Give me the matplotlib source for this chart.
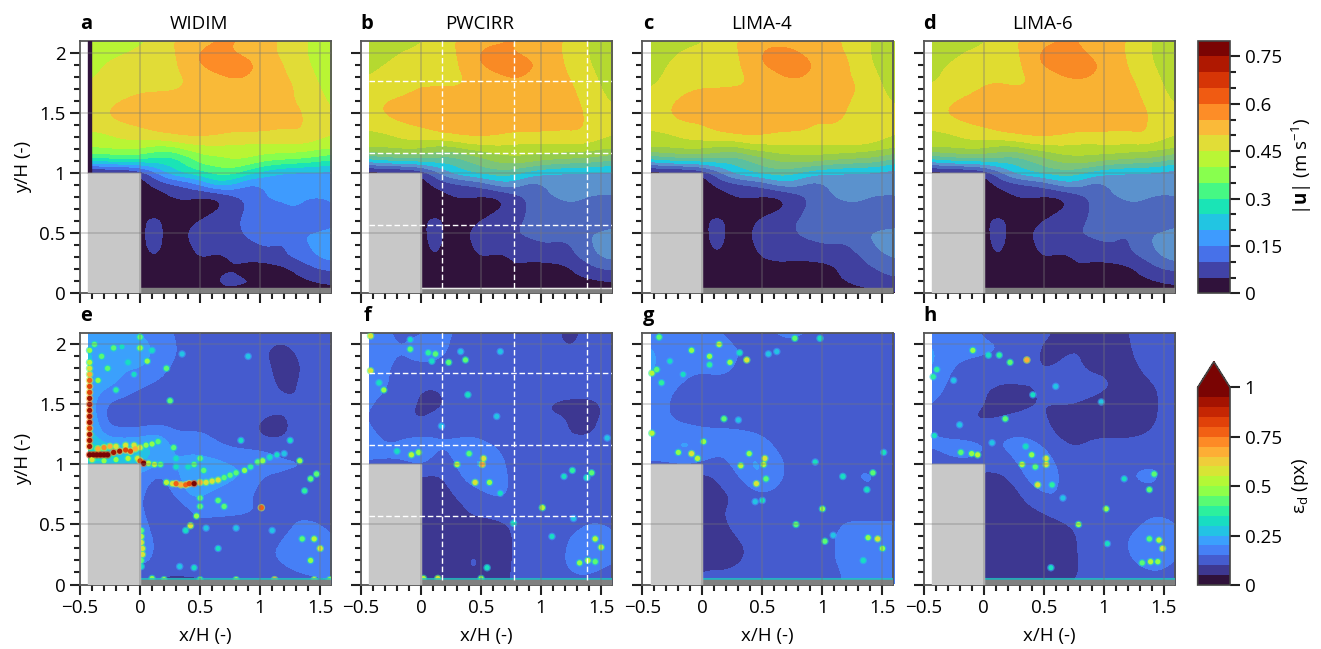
import numpy as np
import matplotlib
matplotlib.use('Agg')
import matplotlib.pyplot as plt
from matplotlib.colors import BoundaryNorm, ListedColormap
from matplotlib.patches import Rectangle
from matplotlib.cm import ScalarMappable

plt.rcParams['font.family'] = ['Open Sans', 'DejaVu Sans']
plt.rcParams['mathtext.fontset'] = 'custom'
plt.rcParams['mathtext.rm'] = 'Open Sans'
plt.rcParams['mathtext.bf'] = 'Open Sans:bold'
plt.rcParams['mathtext.default'] = 'regular'
plt.rcParams['font.size'] = 13.5

# zakres pol (x/H i y/H), siatki rowne
x_pola = (-0.43, 1.6)
y_pola = (0.0, 2.1)

# |u| w cm/s, 16 kolumn od x=-0.43 do 1.6, 22 wiersze od y=2.1 do y=0
u_widim = [
    [42, 42, 42, 43, 46, 49, 52, 53, 55, 56, 53, 52, 49, 47, 43, 41],
    [42, 43, 44, 46, 48, 49, 52, 56, 57, 54, 53, 51, 49, 47, 43, 41],
    [43, 45, 47, 48, 48, 48, 52, 56, 59, 59, 56, 53, 50, 47, 44, 42],
    [44, 46, 48, 48, 48, 49, 50, 52, 54, 56, 55, 52, 51, 48, 45, 42],
    [46, 47, 48, 49, 49, 49, 50, 52, 53, 53, 53, 52, 52, 49, 46, 43],
    [47, 48, 50, 51, 52, 52, 52, 53, 53, 53, 53, 53, 52, 49, 47, 44],
    [47, 50, 52, 52, 53, 53, 53, 53, 53, 53, 53, 53, 52, 51, 47, 45],
    [46, 48, 50, 51, 52, 53, 53, 53, 53, 52, 52, 52, 51, 51, 48, 46],
    [44, 44, 46, 47, 49, 50, 51, 51, 50, 49, 49, 49, 48, 50, 47, 45],
    [41, 41, 42, 42, 38, 38, 42, 43, 44, 43, 43, 43, 43, 43, 42, 41],
    [28, 30, 31, 31, 29, 26, 31, 38, 38, 41, 40, 37, 36, 35, 33, 30],
    [1, 1, 2, 4, 13, 24, 28, 30, 33, 33, 27, 22, 19, 18, 18, 18],
    [1, 1, 1, 1, 6, 8, 10, 16, 24, 20, 13, 16, 16, 17, 17, 17],
    [1, 1, 1, 1, 2, 5, 7, 4, 4, 9, 11, 16, 16, 16, 16, 16],
    [1, 1, 1, 1, 1, 2, 2, 2, 4, 8, 11, 13, 14, 16, 10, 15],
    [1, 1, 1, 1, 9, 2, 3, 5, 9, 9, 12, 14, 14, 10, 9, 13],
    [1, 1, 1, 1, 9, 2, 4, 10, 8, 9, 11, 14, 14, 15, 16, 17],
    [1, 1, 1, 1, 9, 2, 4, 7, 8, 9, 9, 11, 8, 14, 16, 20],
    [1, 1, 1, 1, 6, 2, 3, 6, 3, 6, 7, 8, 10, 12, 15, 18],
    [1, 1, 1, 1, 3, 3, 3, 3, 4, 5, 2, 2, 3, 6, 10, 11],
    [1, 1, 1, 1, 1, 1, 1, 2, 6, 6, 6, 5, 4, 4, 5, 6],
    [1, 1, 1, 1, 1, 1, 1, 1, 4, 4, 3, 3, 3, 3, 3, 3],
]
u_pwcirr = [
    [42, 42, 43, 44, 46, 49, 52, 53, 54, 56, 53, 52, 50, 47, 43, 41],
    [42, 43, 45, 46, 48, 49, 52, 56, 57, 54, 53, 51, 50, 47, 43, 41],
    [43, 45, 47, 48, 48, 48, 52, 56, 59, 59, 56, 53, 50, 47, 44, 42],
    [45, 47, 48, 49, 49, 49, 50, 52, 54, 56, 54, 52, 51, 48, 45, 42],
    [46, 47, 48, 50, 50, 50, 50, 52, 53, 53, 53, 52, 52, 49, 46, 43],
    [48, 50, 51, 52, 52, 52, 52, 53, 53, 53, 53, 53, 52, 50, 47, 44],
    [48, 51, 52, 53, 53, 53, 53, 53, 53, 53, 53, 53, 52, 51, 47, 46],
    [46, 48, 50, 51, 52, 53, 53, 53, 53, 52, 52, 52, 51, 51, 48, 46],
    [44, 44, 46, 47, 49, 50, 51, 51, 50, 49, 49, 49, 49, 50, 47, 45],
    [41, 41, 42, 42, 38, 38, 42, 43, 44, 43, 43, 43, 43, 43, 42, 41],
    [24, 28, 28, 29, 29, 26, 29, 33, 37, 39, 38, 36, 35, 34, 33, 30],
    [1, 1, 2, 4, 12, 22, 26, 28, 29, 27, 23, 20, 19, 19, 18, 19],
    [1, 1, 1, 1, 6, 8, 9, 12, 18, 18, 12, 16, 17, 17, 17, 17],
    [1, 1, 1, 1, 2, 5, 6, 4, 4, 8, 11, 15, 16, 16, 15, 15],
    [1, 1, 1, 1, 1, 2, 2, 2, 4, 8, 11, 12, 14, 14, 10, 12],
    [1, 1, 1, 1, 9, 2, 3, 5, 9, 9, 11, 13, 14, 10, 9, 12],
    [1, 1, 1, 1, 9, 2, 4, 9, 9, 10, 11, 12, 13, 14, 16, 17],
    [1, 1, 1, 1, 8, 2, 4, 7, 8, 9, 9, 10, 8, 12, 16, 21],
    [1, 1, 1, 1, 6, 2, 3, 6, 3, 6, 7, 8, 8, 11, 15, 17],
    [1, 1, 1, 1, 2, 4, 2, 2, 3, 5, 2, 2, 3, 6, 10, 11],
    [1, 1, 1, 1, 1, 1, 1, 2, 5, 4, 4, 5, 5, 4, 4, 5],
    [1, 1, 1, 1, 1, 1, 1, 1, 1, 3, 3, 3, 3, 3, 3, 3],
]
u_lima4 = [
    [42, 42, 42, 44, 46, 49, 52, 53, 53, 53, 53, 52, 49, 47, 43, 41],
    [42, 43, 46, 47, 48, 49, 52, 56, 57, 55, 53, 51, 50, 47, 43, 41],
    [43, 45, 47, 48, 48, 48, 52, 56, 58, 58, 55, 53, 51, 47, 44, 42],
    [43, 46, 47, 48, 48, 49, 50, 52, 55, 56, 54, 52, 51, 48, 45, 42],
    [45, 47, 49, 50, 50, 50, 50, 52, 53, 53, 53, 52, 52, 49, 46, 43],
    [46, 49, 51, 52, 52, 52, 52, 53, 53, 53, 49, 53, 51, 48, 47, 44],
    [47, 50, 52, 52, 53, 53, 53, 53, 53, 53, 49, 53, 50, 47, 47, 46],
    [46, 48, 50, 50, 52, 53, 53, 53, 52, 52, 50, 50, 49, 48, 48, 46],
    [44, 44, 46, 47, 49, 50, 51, 50, 49, 49, 49, 49, 49, 51, 47, 45],
    [41, 41, 42, 42, 39, 38, 42, 43, 44, 43, 44, 44, 44, 43, 42, 41],
    [24, 28, 28, 29, 29, 26, 29, 33, 36, 38, 38, 36, 35, 34, 33, 28],
    [1, 1, 2, 4, 12, 22, 26, 28, 29, 26, 22, 20, 19, 19, 18, 17],
    [1, 1, 1, 1, 6, 8, 9, 12, 18, 17, 12, 16, 17, 17, 17, 17],
    [1, 1, 1, 1, 2, 5, 6, 4, 4, 8, 11, 15, 16, 16, 15, 15],
    [1, 1, 1, 1, 1, 2, 2, 2, 4, 8, 12, 13, 14, 14, 11, 12],
    [1, 1, 1, 1, 9, 2, 3, 7, 9, 10, 13, 14, 14, 11, 10, 12],
    [1, 1, 1, 1, 9, 2, 4, 9, 9, 10, 12, 13, 13, 14, 17, 17],
    [1, 1, 1, 1, 8, 2, 4, 7, 8, 9, 9, 10, 9, 13, 16, 21],
    [1, 1, 1, 1, 5, 2, 3, 6, 5, 6, 7, 8, 8, 10, 13, 16],
    [1, 1, 1, 1, 3, 5, 3, 3, 5, 3, 2, 3, 7, 9, 10, 11],
    [1, 1, 1, 1, 1, 1, 1, 2, 5, 3, 2, 4, 5, 7, 9, 10],
    [1, 1, 1, 1, 1, 1, 1, 1, 2, 3, 3, 3, 3, 3, 3, 4],
]
u_lima6 = [
    [42, 42, 43, 44, 46, 49, 52, 53, 55, 55, 53, 52, 50, 47, 43, 41],
    [42, 43, 45, 46, 48, 49, 52, 57, 58, 56, 53, 51, 50, 47, 43, 41],
    [43, 45, 47, 48, 48, 48, 52, 57, 59, 59, 56, 53, 50, 47, 44, 42],
    [43, 47, 48, 49, 49, 49, 50, 52, 55, 56, 55, 52, 51, 48, 45, 42],
    [46, 47, 48, 50, 51, 50, 50, 52, 53, 53, 53, 52, 52, 49, 46, 43],
    [47, 49, 51, 52, 52, 52, 52, 53, 53, 53, 53, 53, 52, 50, 47, 44],
    [48, 51, 52, 53, 53, 53, 53, 53, 53, 53, 53, 53, 52, 51, 48, 46],
    [46, 48, 50, 51, 52, 53, 53, 53, 53, 52, 52, 52, 51, 51, 48, 46],
    [44, 44, 46, 47, 49, 50, 51, 51, 50, 49, 49, 49, 49, 51, 47, 45],
    [41, 41, 42, 42, 38, 38, 42, 43, 44, 43, 43, 44, 43, 43, 42, 41],
    [24, 28, 28, 29, 29, 26, 29, 33, 37, 39, 38, 36, 35, 34, 33, 28],
    [1, 1, 2, 4, 12, 22, 26, 28, 29, 27, 23, 20, 19, 19, 18, 17],
    [1, 1, 1, 1, 6, 8, 9, 12, 18, 18, 12, 16, 17, 17, 17, 17],
    [1, 1, 1, 1, 2, 5, 6, 4, 4, 8, 11, 15, 16, 16, 15, 15],
    [1, 1, 1, 1, 1, 2, 2, 2, 4, 8, 11, 12, 14, 14, 10, 13],
    [1, 1, 1, 1, 9, 2, 3, 5, 9, 9, 11, 13, 14, 10, 9, 13],
    [1, 1, 1, 1, 9, 2, 4, 9, 9, 10, 11, 12, 9, 14, 16, 17],
    [1, 1, 1, 1, 8, 2, 4, 7, 8, 9, 9, 10, 9, 13, 17, 21],
    [1, 1, 1, 1, 6, 2, 3, 6, 3, 6, 7, 8, 9, 11, 15, 18],
    [1, 1, 1, 1, 2, 4, 2, 2, 3, 5, 2, 2, 3, 6, 10, 11],
    [1, 1, 1, 1, 1, 1, 1, 2, 5, 4, 4, 4, 5, 4, 5, 6],
    [1, 1, 1, 1, 1, 1, 1, 1, 2, 3, 3, 3, 3, 3, 3, 3],
]

# blad w setnych piksela, 15 kolumn, 15 wierszy od y=2.1 co 0.15
e_widim = [
    [22, 20, 19, 20, 16, 15, 12, 11, 11, 12, 12, 11, 12, 14, 15],
    [26, 24, 22, 24, 19, 15, 14, 13, 13, 13, 10, 9, 10, 13, 14],
    [26, 22, 20, 21, 17, 14, 14, 14, 13, 13, 11, 9, 9, 12, 14],
    [24, 22, 20, 15, 14, 13, 13, 14, 13, 13, 12, 9, 10, 12, 14],
    [24, 14, 12, 12, 12, 13, 14, 14, 13, 14, 12, 11, 10, 9, 10],
    [28, 13, 12, 11, 12, 12, 14, 14, 13, 12, 9, 9, 11, 11, 11],
    [30, 20, 20, 22, 26, 17, 16, 15, 13, 12, 9, 9, 11, 13, 11],
    [40, 40, 35, 30, 24, 20, 22, 20, 18, 18, 20, 16, 16, 14, 12],
    [8, 8, 8, 20, 12, 20, 22, 28, 24, 20, 14, 15, 14, 16, 14],
    [8, 8, 8, 18, 10, 16, 24, 18, 15, 15, 14, 11, 15, 14, 13],
    [8, 8, 8, 18, 10, 9, 14, 18, 18, 16, 15, 15, 15, 14, 14],
    [8, 8, 8, 20, 11, 12, 16, 10, 9, 12, 13, 14, 15, 16, 14],
    [8, 8, 8, 24, 12, 14, 15, 12, 13, 14, 15, 15, 18, 20, 16],
    [8, 8, 8, 16, 12, 12, 13, 14, 15, 14, 14, 15, 18, 20, 14],
    [8, 8, 8, 10, 9, 8, 8, 8, 9, 9, 9, 9, 10, 12, 16],
]
e_pwcirr = [
    [20, 15, 14, 14, 16, 15, 14, 14, 10, 12, 11, 10, 9, 13, 14],
    [20, 16, 15, 18, 18, 13, 12, 13, 12, 12, 11, 10, 10, 13, 13],
    [18, 15, 14, 14, 13, 12, 12, 12, 13, 12, 12, 12, 12, 13, 13],
    [17, 16, 12, 10, 10, 12, 11, 11, 12, 12, 12, 12, 12, 12, 13],
    [16, 13, 12, 9, 9, 11, 12, 13, 11, 11, 10, 9, 9, 9, 11],
    [15, 11, 10, 9, 12, 11, 11, 12, 12, 11, 10, 11, 9, 10, 11],
    [18, 14, 16, 17, 16, 16, 16, 13, 12, 11, 12, 10, 10, 10, 11],
    [17, 17, 17, 20, 13, 16, 22, 20, 13, 12, 12, 12, 13, 13, 13],
    [8, 8, 8, 9, 9, 13, 20, 20, 15, 10, 11, 13, 14, 15, 12],
    [8, 8, 8, 8, 8, 10, 12, 16, 16, 10, 12, 10, 11, 12, 10],
    [8, 8, 8, 8, 9, 9, 10, 11, 12, 12, 12, 12, 13, 13, 13],
    [8, 8, 8, 8, 9, 11, 9, 8, 9, 13, 13, 14, 15, 17, 15],
    [8, 8, 8, 8, 8, 9, 10, 9, 9, 12, 13, 14, 17, 17, 15],
    [8, 8, 8, 8, 8, 9, 11, 9, 9, 13, 13, 14, 18, 16, 15],
    [8, 8, 8, 11, 11, 9, 9, 9, 10, 11, 12, 12, 13, 13, 13],
]
e_lima4 = [
    [18, 16, 15, 15, 15, 13, 15, 15, 16, 15, 15, 14, 14, 14, 15],
    [21, 18, 17, 18, 17, 15, 15, 14, 14, 14, 13, 12, 12, 13, 14],
    [22, 17, 16, 17, 18, 14, 14, 14, 13, 14, 12, 11, 9, 13, 13],
    [18, 15, 15, 11, 12, 13, 13, 13, 14, 13, 13, 12, 12, 13, 13],
    [16, 15, 14, 13, 11, 10, 12, 12, 13, 13, 12, 12, 12, 12, 12],
    [18, 15, 13, 12, 14, 13, 12, 12, 12, 11, 10, 10, 11, 10, 12],
    [19, 20, 22, 20, 17, 18, 17, 14, 13, 12, 11, 11, 12, 12, 14],
    [17, 18, 20, 17, 14, 18, 22, 16, 14, 14, 13, 13, 14, 14, 13],
    [8, 8, 8, 8, 11, 15, 22, 19, 13, 13, 13, 14, 16, 15, 14],
    [8, 8, 8, 8, 9, 10, 14, 14, 12, 11, 13, 13, 14, 15, 14],
    [8, 8, 8, 9, 10, 11, 11, 12, 13, 14, 14, 15, 14, 14, 14],
    [8, 8, 8, 8, 9, 11, 12, 13, 13, 14, 15, 15, 16, 16, 16],
    [8, 8, 8, 8, 8, 9, 11, 11, 12, 13, 15, 15, 16, 17, 16],
    [8, 8, 8, 9, 9, 10, 11, 12, 13, 14, 15, 15, 16, 17, 15],
    [8, 8, 8, 13, 12, 12, 12, 13, 13, 14, 14, 15, 16, 15, 15],
]
e_lima6 = [
    [16, 15, 15, 15, 14, 12, 11, 10, 9, 10, 9, 9, 12, 13, 14],
    [22, 17, 16, 15, 16, 12, 10, 9, 10, 10, 9, 9, 11, 13, 13],
    [21, 15, 14, 15, 13, 11, 10, 10, 11, 9, 9, 9, 10, 12, 13],
    [18, 14, 12, 10, 9, 10, 10, 11, 12, 12, 11, 9, 9, 10, 12],
    [15, 13, 12, 10, 9, 9, 10, 10, 10, 9, 8, 8, 8, 10, 12],
    [14, 11, 9, 9, 10, 11, 11, 9, 9, 9, 9, 8, 9, 10, 12],
    [16, 16, 16, 15, 16, 17, 14, 10, 9, 10, 10, 10, 10, 11, 12],
    [14, 16, 17, 15, 13, 17, 22, 14, 11, 11, 12, 13, 14, 14, 13],
    [8, 8, 8, 8, 9, 12, 21, 18, 10, 10, 13, 15, 16, 16, 13],
    [8, 8, 8, 8, 8, 9, 13, 17, 10, 10, 13, 13, 14, 14, 12],
    [8, 8, 8, 8, 8, 9, 9, 11, 13, 14, 14, 13, 14, 14, 14],
    [8, 8, 8, 8, 8, 9, 8, 8, 9, 12, 13, 14, 15, 18, 15],
    [8, 8, 8, 8, 8, 9, 9, 8, 9, 12, 13, 14, 19, 21, 15],
    [8, 8, 8, 9, 7, 8, 11, 8, 9, 11, 12, 13, 15, 16, 14],
    [8, 8, 8, 11, 9, 8, 10, 10, 10, 11, 11, 12, 13, 13, 13],
]

spots_widim = [
    (-.42, 1.08, 1.1), (-.39, 1.08, 1.1), (-.36, 1.08, 1.1), (-.33, 1.08, 1.1), (-.3, 1.08, 1.1), (-.27, 1.08, 1.1),
    (-.22, 1.1, .95), (-.17, 1.11, .9), (-.12, 1.12, .85), (-.08, 1.11, .8), (-.04, 1.13, .7), (0, 1.14, .6),
    (.05, 1.16, .45), (.1, 1.17, .45), (.15, 1.19, .42), (-.35, 1.13, .7), (-.3, 1.14, .72), (-.25, 1.15, .65),
    (-.2, 1.15, .6), (-.12, 1.16, .55), (-.05, 1.16, .55), (-.4, 1.04, .55), (-.3, 1.03, .45), (-.2, 1.04, .45),
    (-.1, 1.05, .5), (-.42, 1.15, .9), (-.42, 1.2, .95), (-.42, 1.25, .9), (-.42, 1.3, .85), (-.42, 1.35, .95),
    (-.42, 1.4, .95), (-.42, 1.45, .9), (-.42, 1.5, .95), (-.42, 1.55, .9), (-.42, 1.6, .8), (-.42, 1.65, .85),
    (-.42, 1.7, .75), (-.42, 1.75, .65), (-.42, 1.8, .55), (-.42, 1.85, .5), (-.42, 1.95, .45),
    (.03, 1.01, 1.0), (0, 1.03, .8), (-.02, 1.05, .6), (.07, 1.01, .5), (.12, 1.0, .5), (.17, 1.0, .42),
    (.3, .98, .35), (.4, .98, .35), (.22, .85, .5), (.27, .84, .6), (.3, .84, .75), (.34, .83, .7), (.38, .83, .75),
    (.41, .84, .8), (.45, .84, 1.05), (.5, .85, .65), (.55, .85, .6), (.6, .86, .55), (.65, .87, .55), (.7, .89, .42),
    (.75, .91, .42), (.8, .93, .42), (.87, .95, .45), (.92, .98, .38), (.98, 1.02, .4), (1.02, 1.03, .48),
    (1.08, 1.06, .35), (1.14, 1.08, .33), (1.2, 1.09, .3), (1.33, 1.03, .45), (.02, .25, .55), (.02, .3, .55),
    (.01, .35, .55), (.01, .4, .5), (.01, .2, .42), (.01, .45, .4), (.01, .15, .35), (1.01, .64, .75), (.42, .49, .55),
    (.47, .57, .45), (.5, .65, .4), (.5, .72, .4), (.65, .7, .42), (.7, .65, .42), (.38, .45, .35), (1.45, .38, .5),
    (1.5, .3, .55), (1.42, .2, .45), (1.35, .38, .42), (1.42, .88, .4), (1.47, .92, .42), (1.37, .78, .38),
    (.55, .47, .3), (.8, .47, .3), (1.1, .45, .3), (1.58, .04, .5), (1.45, .04, .55), (1.12, .04, .65), (.8, .04, .5),
    (.5, .04, .45), (.2, .04, .5), (.1, .05, .45), (.65, .3, .33), (.33, .15, .3), (.45, .14, .33),
    (0, 2.06, .42), (0, 1.97, .48), (-.22, 1.97, .42), (-.15, 1.98, .33), (.06, 1.86, .45), (.22, 1.8, .42),
    (-.27, 1.8, .42), (-.35, 1.7, .45), (-.2, 1.62, .38), (.25, 1.53, .4), (-.32, 1.9, .42), (-.38, 2.0, .4),
    (.1, 1.95, .35), (-.1, 1.85, .35), (-.05, 1.75, .33), (.35, 1.92, .3), (.45, 1.0, .42), (.5, 1.05, .42),
    (.53, .95, .4), (.28, 1.14, .4), (.3, 1.05, .35), (.9, 1.9, .3), (.84, 1.2, .33), (1.25, 1.2, .33),
]
spots_pwcirr = [
    (-.08, 1.08, .5), (-.02, 1.1, .48), (-.2, 1.11, .35), (-.09, 1.96, .42), (.06, 1.93, .38), (.12, 1.92, .42),
    (.23, 1.85, .42), (.37, 1.87, .42), (.09, 1.86, .35), (-.31, 1.62, .45), (-.35, 1.68, .35), (-.42, 1.78, .55),
    (-.42, 2.07, .55), (-.09, 2.04, .33), (.52, 1.05, .6), (.51, 1.0, .65), (.3, 1.0, .5), (.45, .85, .55),
    (.57, .85, .45), (.4, 1.09, .42), (.63, 1.4, .3), (.17, 1.32, .3), (1.01, .64, .5), (1.42, .93, .42),
    (1.38, .89, .35), (1.26, .95, .38), (1.19, .9, .33), (1.45, .38, .52), (1.5, .31, .5), (1.39, .2, .5),
    (1.32, .18, .45), (1.45, .19, .4), (1.09, .4, .33), (.55, .14, .35), (.14, .05, .55), (.02, .05, .5),
    (.5, .05, .45), (.77, .51, .35), (.66, 1.94, .3), (.33, 1.94, .3), (.39, 1.58, .35), (1.55, 1.22, .3),
    (.66, .76, .33), (1.27, .55, .3),
]
spots_lima4 = [
    (-.09, 1.09, .55), (-.04, 1.05, .5), (-.2, 1.1, .45), (.37, 1.87, .55), (.23, 1.85, .45), (.06, 1.9, .45),
    (-.09, 1.95, .45), (.14, 2.0, .5), (-.36, 2.06, .4), (-.42, 1.76, .5), (-.38, 1.79, .4), (-.42, 1.26, .5),
    (.52, 1.05, .55), (.45, .84, .6), (.39, 1.09, .45), (.32, .99, .5), (.51, 1.0, .5), (.53, .88, .4), (.18, 1.38, .4),
    (.01, 1.19, .45), (1.0, .63, .45), (1.42, .93, .4), (1.37, .79, .35), (1.38, .39, .45), (1.46, .38, .55),
    (1.5, .3, .45), (1.34, .2, .35), (1.09, .41, .3), (1.02, .36, .4), (.78, .5, .4), (.77, 2.05, .4), (.98, 2.05, .35),
    (.62, 1.94, .3), (.55, 1.92, .3), (1.17, .9, .35), (-.27, 1.86, .33), (-.16, 1.75, .33), (-.34, 1.68, .38),
    (.06, 1.83, .38), (.31, 1.93, .35), (1.51, 1.1, .33), (.94, 1.02, .33), (.44, .69, .3), (.5, .7, .33), (.3, 1.37, .3),
]
spots_lima6 = [
    (-.05, 1.08, .5), (-.1, 1.09, .45), (-.19, 1.1, .42), (.36, 1.87, .7), (.22, 1.85, .42), (.13, 1.91, .38),
    (-.09, 1.95, .45), (-.39, 1.79, .38), (-.42, 1.73, .38), (-.25, 1.7, .3), (.52, 1.05, .55), (.52, 1.0, .6),
    (.45, .83, .55), (.4, 1.08, .45), (.32, 1.0, .5), (.43, .98, .4), (.57, .83, .38), (1.02, .63, .45), (.79, .5, .45),
    (1.42, .92, .4), (1.38, .79, .4), (1.38, .38, .4), (1.46, .37, .5), (1.49, .3, .55), (1.39, .19, .5), (1.32, .18, .4),
    (1.45, .19, .45), (.56, .14, .32), (.18, 1.38, .4), (.41, 1.58, .33), (.04, 1.91, .35), (.6, 1.65, .3), (1.17, .88, .33),
    (1.03, .34, .32), (-.2, 1.33, .3), (-.41, 1.24, .33), (.35, 1.15, .35), (.07, 1.18, .3), (.98, 1.52, .28), (.66, .72, .3),
]

tytuly = ['WIDIM', 'PWCIRR', 'LIMA-4', 'LIMA-6']
litery_gora = ['a', 'b', 'c', 'd']
litery_dol = ['e', 'f', 'g', 'h']
linie_x = [0.172, 0.772, 1.38]
linie_y = [0.568, 1.163, 1.765]

W, H = 1321, 649
def osie(l, t, r, b):
    return fig.add_axes([l / W, 1 - b / H, (r - l) / W, (b - t) / H])

# kolory: turbo w pasmach, WIDIM jaskrawy, reszta troche przygaszona
turbo = plt.get_cmap('turbo')
kolory_u = [turbo(i / 15) for i in range(16)]
kolory_u_mute = ['#30123b', '#40409f', '#4d68bd', '#5b92cd', '#1fc8e0', '#5bc0a0', '#7cc47a', '#95cc4c',
                 '#b5d930', '#e0dc30', '#f9b233', '#f98a25'] + kolory_u[12:]
kolory_e = [turbo(i / 19) for i in range(20)]
poziomy_u = np.arange(0, 0.81, 0.05)
poziomy_e = np.arange(0, 1.01, 0.05)
norm_u = BoundaryNorm(poziomy_u, 16)
norm_e = BoundaryNorm(poziomy_e, 20)
cmap_u = ListedColormap(kolory_u)
cmap_u_mute = ListedColormap(kolory_u_mute)
cmap_e = ListedColormap(kolory_e)
for c_ in (cmap_u, cmap_u_mute, cmap_e):
    c_.set_under('#30123b')
    c_.set_over('#7a0403')

def rysuj_pole(ax, pole, cmap, norm):
    # imshow sam wygladza siatke, pasma wychodza z BoundaryNorm
    a = np.array(pole) / 100
    dx = (x_pola[1] - x_pola[0]) / (a.shape[1] - 1)
    dy = (y_pola[1] - y_pola[0]) / (a.shape[0] - 1)
    ext = (x_pola[0] - dx / 2, x_pola[1] + dx / 2, y_pola[0] - dy / 2, y_pola[1] + dy / 2)
    im = ax.imshow(a, extent=ext, origin='upper', aspect='auto', cmap=cmap, norm=norm,
                   interpolation='bicubic', interpolation_stage='data', zorder=1)
    im.set_clip_path(Rectangle((x_pola[0], 0), x_pola[1] - x_pola[0], 2.097, transform=ax.transData))

def ustaw_os(ax, dol, lewy):
    ax.set_xlim(-0.5, 1.59)
    ax.set_ylim(0, 2.097)
    ax.set_xticks([-0.5, 0, 0.5, 1, 1.5])
    ax.set_xticks(np.arange(-0.4, 1.6, 0.1), minor=True)
    ax.set_yticks([0, 0.5, 1, 1.5, 2])
    ax.set_yticks(np.arange(0.1, 2.1, 0.1), minor=True)
    ax.set_xticklabels(['\u22120.5', '0', '0.5', '1', '1.5'] if dol else [])
    ax.set_yticklabels(['0', '0.5', '1', '1.5', '2'] if lewy else [])
    ax.tick_params(which='major', length=7.5, width=1.5, color='#222222', pad=3)
    ax.tick_params(which='minor', length=4.5, width=1.5, color='#222222')
    for s in ax.spines.values():
        s.set_color('#555555')
        s.set_linewidth(1.3)
    for g in [0, 0.5, 1, 1.5]:
        ax.axvline(g, color='#777777', alpha=0.35, lw=1.4, zorder=6)
    for g in [0.5, 1, 1.5, 2]:
        ax.axhline(g, color='#777777', alpha=0.3, lw=1.4, zorder=6)
    ax.add_patch(Rectangle((-0.43, 0), 0.43, 1.0, color='#c8c8c8', zorder=5))
    if lewy:
        ax.set_ylabel('y/H (-)', labelpad=5)
    if dol:
        ax.set_xlabel('x/H (-)', labelpad=7)

lewe = [80, 361, 642.3, 923.6]
pola_u = [u_widim, u_pwcirr, u_lima4, u_lima6]
pola_e = [e_widim, e_pwcirr, e_lima4, e_lima6]
plamki = [spots_widim, spots_pwcirr, spots_lima4, spots_lima6]

fig = plt.figure(figsize=(W / 100, H / 100), dpi=100)

for i in range(4):
    l = lewe[i]
    ax = osie(l, 41, l + 251, 293.3)
    rysuj_pole(ax, pola_u[i], cmap_u if i == 0 else cmap_u_mute, norm_u)
    ax.add_patch(Rectangle((0, 0), 1.6, 0.04, color='#808080', zorder=5))
    if i == 0:
        ax.add_patch(Rectangle((-0.43, 1.0), 0.024, 1.1, color='#30123b', zorder=4))
    if i == 1:
        ax.plot([0, 1.6], [0.045, 0.045], color='#e8e8e8', lw=1.0, zorder=5)
    ustaw_os(ax, False, i == 0)
    fig.text((l + 6) / W, 1 - 24 / H, litery_gora[i], fontsize=14.5, fontweight='bold', ha='center', va='center')
    fig.text((l + 119) / W, 1 - 24 / H, tytuly[i], ha='center', va='center')

    ax2 = osie(l, 332.7, l + 251, 584.5)
    rysuj_pole(ax2, pola_e[i], cmap_e, norm_e)
    s = sorted(plamki[i], key=lambda p: p[2])
    sx = [p[0] for p in s]
    sy = [p[1] for p in s]
    sv = np.array([p[2] for p in s])
    # otoczka i srodek plamki
    ax2.scatter(sx, sy, c=sv * 0.75, s=30, cmap=cmap_e, norm=norm_e, linewidths=0, alpha=0.6, zorder=3)
    ax2.scatter(sx, sy, c=sv, s=14, cmap=cmap_e, norm=norm_e, linewidths=0, zorder=3)
    ax2.plot([0, 1.6], [0.045, 0.045], color='#1ec8c0', lw=1.5, alpha=0.8, zorder=4)
    ax2.add_patch(Rectangle((0, 0), 1.6, 0.035, color='#808080', zorder=5))
    ustaw_os(ax2, True, i == 0)
    fig.text((l + 6) / W, 1 - 316 / H, litery_dol[i], fontsize=14.5, fontweight='bold', ha='center', va='center')

    # przekroje PWCIRR
    if i == 1:
        for a_, dol_y in ((ax, 0.04), (ax2, 0.035)):
            for xl in linie_x:
                a_.plot([xl, xl], [dol_y, 2.1], color='white', lw=1.0, ls=(0, (4, 2)), zorder=7)
            for yl in linie_y:
                a_.plot([-0.43, 1.6], [yl, yl], color='white', lw=1.0, ls=(0, (4, 2)), zorder=7)

# paski kolorow
cax1 = osie(1197.7, 40.7, 1230, 293.3)
cb1 = fig.colorbar(ScalarMappable(norm=norm_u, cmap=cmap_u), cax=cax1, spacing='proportional')
cb1.set_ticks([0, 0.15, 0.3, 0.45, 0.6, 0.75])
cb1.set_ticklabels(['0', '0.15', '0.3', '0.45', '0.6', '0.75'])
cb1.ax.set_yticks(np.arange(0.05, 0.8, 0.05), minor=True)
cb1.set_label(r'$|\mathbf{u}|$ (m s$^{-1}$)', labelpad=6)

cax2 = osie(1197.7, 361.7, 1230, 585)
cb2 = fig.colorbar(ScalarMappable(norm=norm_e, cmap=cmap_e), cax=cax2, extend='max', extendfrac=0.13, spacing='proportional')
cb2.set_ticks([0, 0.25, 0.5, 0.75, 1])
cb2.set_ticklabels(['0', '0.25', '0.5', '0.75', '1'])
cb2.set_label('\u03b5$_d$ (px)', labelpad=6)
for cb in (cb1, cb2):
    cb.ax.tick_params(which='major', length=7.5, width=1.5, color='#222222', pad=3)
    cb.ax.tick_params(which='minor', length=0)
    cb.outline.set_edgecolor('#444444')
    cb.outline.set_linewidth(1.2)
cb1.ax.tick_params(which='minor', length=4.5, width=1.5, color='#222222')

fig.savefig('out.png', dpi=100)
